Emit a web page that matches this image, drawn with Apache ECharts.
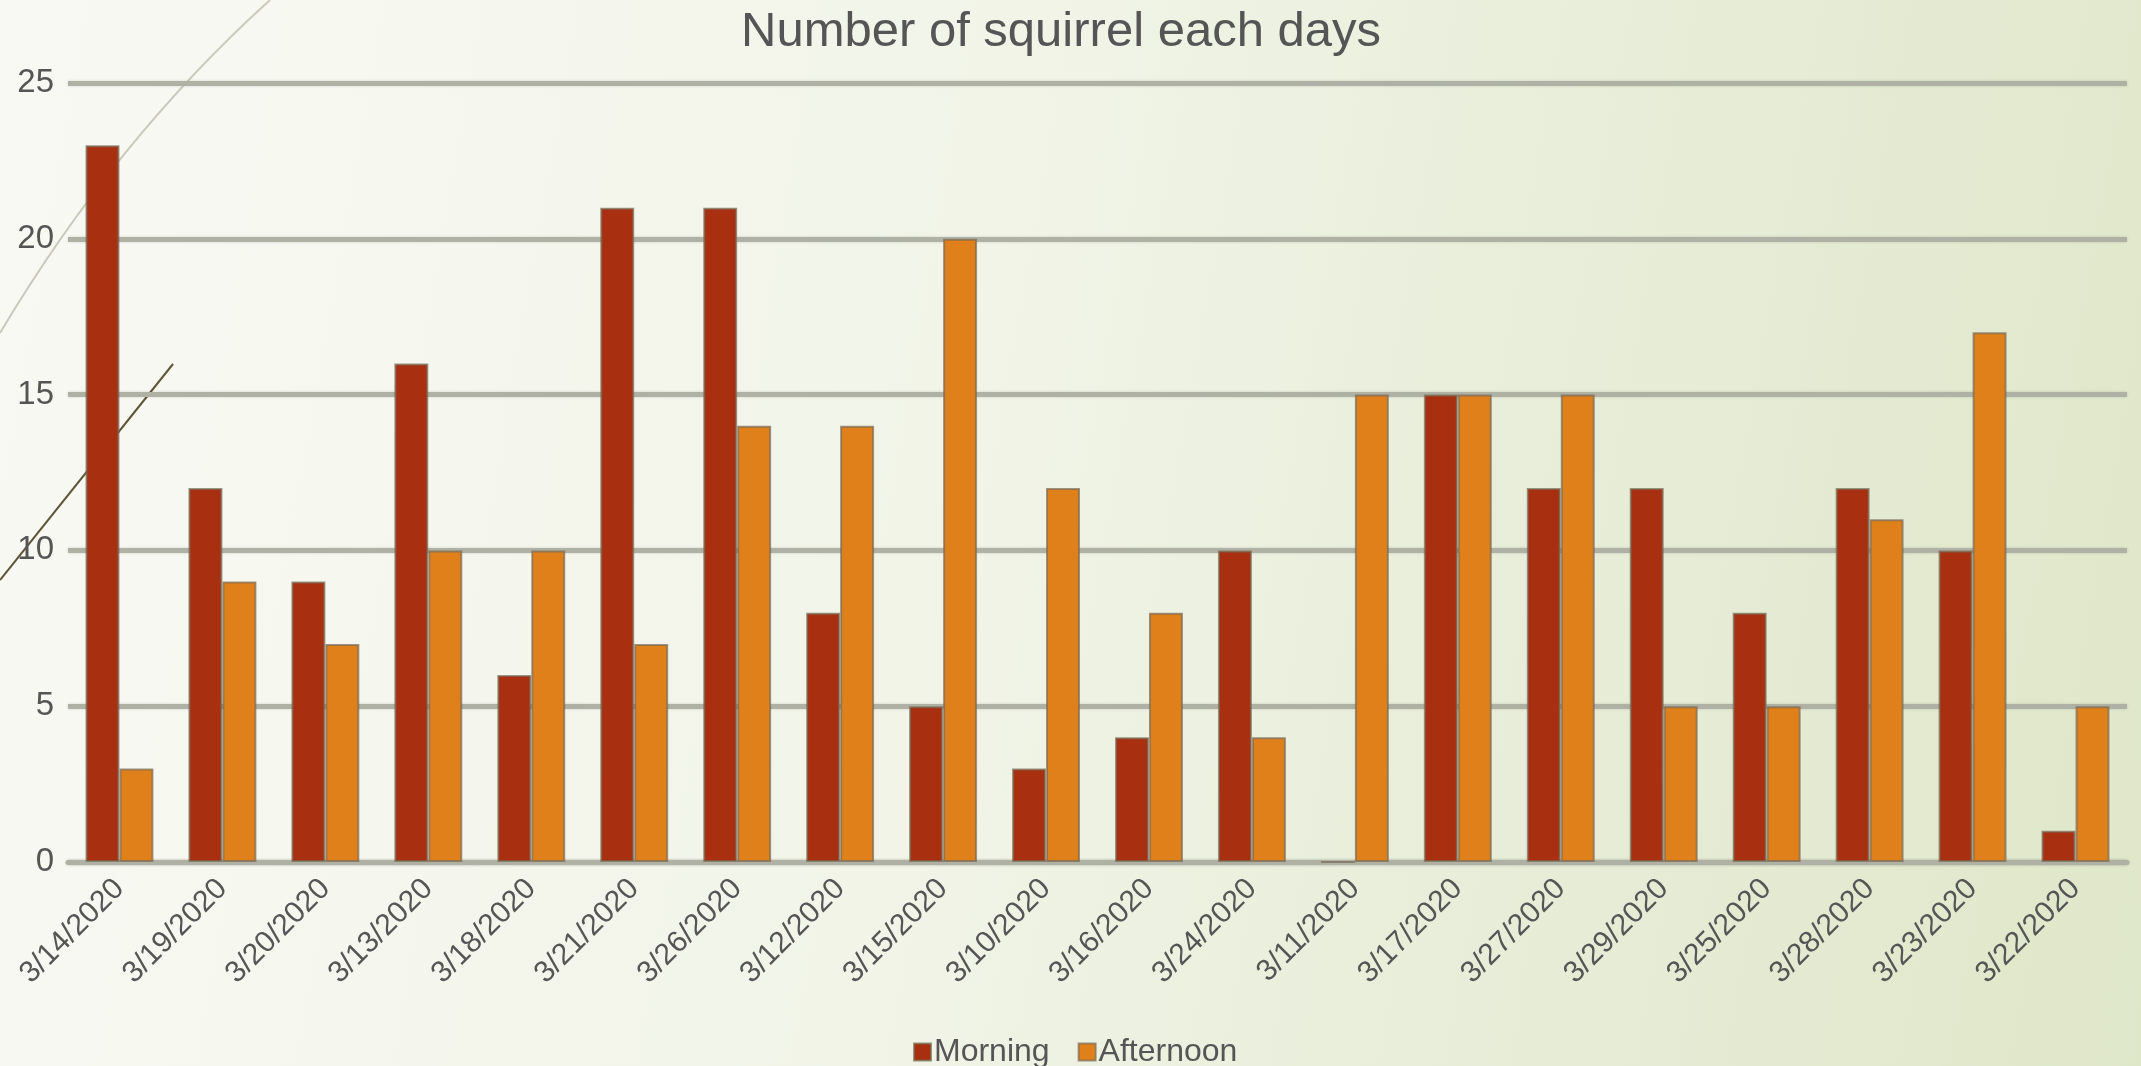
<!DOCTYPE html>
<html>
<head>
<meta charset="utf-8">
<title>Number of squirrel each days</title>
<script src="https://cdn.jsdelivr.net/npm/echarts@6/dist/echarts.min.js"></script>
<style>
  html, body { margin: 0; padding: 0; }
  body {
    width: 2141px;
    height: 1066px;
    background: linear-gradient(100deg, #f9f9f4 0%, #f1f4e7 45%, #e6ecd6 75%, #dfe7c9 100%);
  }
  .chart { width: 2141px; height: 1066px; }
</style>
</head>
<body>
<div class="chart"></div>
<script>
// 数据
var days = ["3/14/2020", "3/19/2020", "3/20/2020", "3/13/2020", "3/18/2020",
  "3/21/2020", "3/26/2020", "3/12/2020", "3/15/2020", "3/10/2020",
  "3/16/2020", "3/24/2020", "3/11/2020", "3/17/2020", "3/27/2020",
  "3/29/2020", "3/25/2020", "3/28/2020", "3/23/2020", "3/22/2020"];
var morning = [23, 12, 9, 16, 6, 21, 21, 8, 5, 3, 4, 10, 0, 15, 12, 12, 8, 12, 10, 1];
var afternoon = [3, 9, 7, 10, 10, 7, 14, 14, 20, 12, 8, 4, 15, 15, 15, 5, 5, 11, 17, 5];
var yTicks = [0, 5, 10, 15, 20, 25];

(function () {
  var myChart = echarts.init(document.querySelector(".chart"));
  var font = "'Liberation Sans', Arial, sans-serif";
  var gridColor = "#aeb1a3";

  var option = {
    backgroundColor: "transparent",
    color: ["#a83010", "#e0801a"],
    title: {
      text: "Number of squirrel each days",
      left: 1056,
      textAlign: "center",
      top: 3,
      textStyle: {
        color: "#555555",
        fontFamily: font,
        fontSize: 49,
        fontWeight: "normal",
      },
    },
    legend: {
      data: ["Morning", "Afternoon"],
      left: 908,
      top: 1031,
      icon: "rect",
      itemWidth: 17,
      itemHeight: 17,
      itemGap: 28,
      textStyle: {
        color: "#555555",
        fontFamily: font,
        fontSize: 32,
        padding: [0, 0, 0, -2],
      },
    },
    grid: {
      left: 68,
      right: 14,
      top: 83,
      bottom: 204,
      containLabel: false,
    },
    // 左边的装饰线
    graphic: [
      {
        type: "bezierCurve",
        z: -1,
        silent: true,
        shape: { x1: 270, y1: 0, x2: 0, y2: 333, cpx1: 115, cpy1: 140 },
        style: { stroke: "#c9cabb", lineWidth: 2, fill: null },
      },
      {
        type: "line",
        z: -1,
        silent: true,
        shape: { x1: 173, y1: 364, x2: 0, y2: 580 },
        style: { stroke: "#5e5539", lineWidth: 2 },
      },
    ],
    xAxis: {
      type: "category",
      data: days,
      axisTick: { show: false },
      axisLine: {
        lineStyle: {
          color: gridColor,
          width: 5,
          shadowBlur: 3,
          shadowColor: "rgba(0,0,0,0.15)",
        },
      },
      axisLabel: {
        rotate: 45,
        margin: 22,
        interval: 0,
        color: "#555555",
        fontFamily: font,
        fontSize: 30,
      },
    },
    yAxis: {
      type: "value",
      min: yTicks[0],
      max: yTicks[yTicks.length - 1],
      interval: yTicks[1] - yTicks[0],
      axisLine: { show: false },
      axisTick: { show: false },
      axisLabel: {
        margin: 14,
        color: "#555555",
        fontFamily: font,
        fontSize: 33,
      },
      //横向分割线 粗一点
      splitLine: {
        lineStyle: {
          color: gridColor,
          width: 5,
          shadowBlur: 3,
          shadowColor: "rgba(0,0,0,0.15)",
        },
      },
    },
    series: [
      {
        name: "Morning",
        type: "bar",
        data: morning,
        barWidth: "33%",
        barGap: "0%",
        itemStyle: {
          color: "#a83010",
          borderColor: "rgba(120,105,85,0.7)",
          borderWidth: 2,
        },
      },
      {
        name: "Afternoon",
        type: "bar",
        data: afternoon,
        barWidth: "33%",
        barGap: "0%",
        itemStyle: {
          color: "#e0801a",
          borderColor: "rgba(120,105,85,0.7)",
          borderWidth: 2,
        },
      },
    ],
  };

  myChart.setOption(option);
  window.addEventListener("resize", function () {
    myChart.resize();
  });
})();
</script>
</body>
</html>
